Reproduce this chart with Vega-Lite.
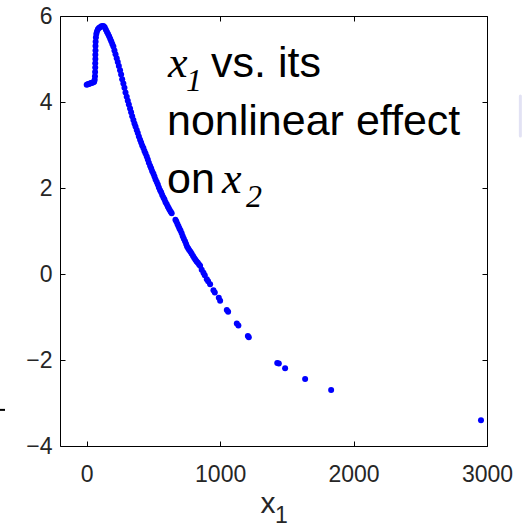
{
  "$schema": "https://vega.github.io/schema/vega-lite/v6.json",
  "width": 427,
  "height": 430,
  "autosize": "none",
  "padding": {"left": 60, "top": 16, "right": 43, "bottom": 81},
  "background": "white",
  "config": {
    "view": {"stroke": "black", "strokeWidth": 1},
    "axis": {
      "grid": false,
      "domain": false,
      "tickColor": "black",
      "tickWidth": 1,
      "tickSize": 5,
      "labelFont": "Liberation Sans",
      "labelFontSize": 23,
      "labelColor": "#262626",
      "labelFlush": false,
      "labelOverlap": false,
      "titleFont": "Liberation Sans",
      "titleFontWeight": "normal",
      "titleColor": "#262626"
    }
  },
  "datasets": {
    "pts": [
      {"x1": 0, "effect": 4.40}, {"x1": 8, "effect": 4.41}, {"x1": 16, "effect": 4.42}, {"x1": 25, "effect": 4.43},
      {"x1": 33, "effect": 4.44}, {"x1": 42, "effect": 4.45}, {"x1": 50, "effect": 4.46}, {"x1": 56, "effect": 4.47},
      {"x1": 60, "effect": 4.52}, {"x1": 62, "effect": 4.60}, {"x1": 63, "effect": 4.70}, {"x1": 64, "effect": 4.80},
      {"x1": 64, "effect": 4.90}, {"x1": 65, "effect": 5.00}, {"x1": 65, "effect": 5.10}, {"x1": 66, "effect": 5.20},
      {"x1": 66, "effect": 5.30}, {"x1": 67, "effect": 5.40}, {"x1": 69, "effect": 5.50}, {"x1": 72, "effect": 5.58},
      {"x1": 77, "effect": 5.64}, {"x1": 84, "effect": 5.69}, {"x1": 92, "effect": 5.72}, {"x1": 100, "effect": 5.74},
      {"x1": 110, "effect": 5.76}, {"x1": 120, "effect": 5.77}, {"x1": 128, "effect": 5.76}, {"x1": 136, "effect": 5.73},
      {"x1": 144, "effect": 5.68}, {"x1": 152, "effect": 5.63}, {"x1": 160, "effect": 5.58}, {"x1": 168, "effect": 5.53},
      {"x1": 176, "effect": 5.47}, {"x1": 184, "effect": 5.41}, {"x1": 192, "effect": 5.35}, {"x1": 200, "effect": 5.29},
      {"x1": 208, "effect": 5.20}, {"x1": 216, "effect": 5.11}, {"x1": 225, "effect": 5.02}, {"x1": 233, "effect": 4.93},
      {"x1": 241, "effect": 4.84}, {"x1": 250, "effect": 4.74}, {"x1": 258, "effect": 4.64}, {"x1": 266, "effect": 4.53},
      {"x1": 275, "effect": 4.43}, {"x1": 283, "effect": 4.33}, {"x1": 291, "effect": 4.22}, {"x1": 300, "effect": 4.12},
      {"x1": 308, "effect": 4.03}, {"x1": 316, "effect": 3.94}, {"x1": 325, "effect": 3.85}, {"x1": 333, "effect": 3.76},
      {"x1": 341, "effect": 3.67}, {"x1": 350, "effect": 3.58}, {"x1": 358, "effect": 3.50}, {"x1": 366, "effect": 3.43},
      {"x1": 375, "effect": 3.35}, {"x1": 383, "effect": 3.28}, {"x1": 391, "effect": 3.20}, {"x1": 400, "effect": 3.12},
      {"x1": 408, "effect": 3.06}, {"x1": 416, "effect": 2.99}, {"x1": 425, "effect": 2.93}, {"x1": 433, "effect": 2.86},
      {"x1": 441, "effect": 2.80}, {"x1": 450, "effect": 2.73}, {"x1": 458, "effect": 2.66}, {"x1": 466, "effect": 2.59},
      {"x1": 475, "effect": 2.52}, {"x1": 483, "effect": 2.46}, {"x1": 491, "effect": 2.39}, {"x1": 500, "effect": 2.33},
      {"x1": 508, "effect": 2.27}, {"x1": 516, "effect": 2.20}, {"x1": 525, "effect": 2.14}, {"x1": 533, "effect": 2.08},
      {"x1": 541, "effect": 2.01}, {"x1": 550, "effect": 1.95}, {"x1": 558, "effect": 1.90}, {"x1": 566, "effect": 1.84},
      {"x1": 575, "effect": 1.78}, {"x1": 583, "effect": 1.73}, {"x1": 591, "effect": 1.67}, {"x1": 600, "effect": 1.62},
      {"x1": 608, "effect": 1.57}, {"x1": 615, "effect": 1.53}, {"x1": 622, "effect": 1.49}, {"x1": 630, "effect": 1.45},
      {"x1": 637, "effect": 1.41},
      {"x1": 665, "effect": 1.26}, {"x1": 672, "effect": 1.22}, {"x1": 680, "effect": 1.16}, {"x1": 688, "effect": 1.11},
      {"x1": 695, "effect": 1.06}, {"x1": 703, "effect": 1.01}, {"x1": 712, "effect": 0.95}, {"x1": 720, "effect": 0.88},
      {"x1": 728, "effect": 0.82}, {"x1": 737, "effect": 0.76}, {"x1": 745, "effect": 0.70}, {"x1": 752, "effect": 0.64},
      {"x1": 760, "effect": 0.60}, {"x1": 768, "effect": 0.56}, {"x1": 778, "effect": 0.52}, {"x1": 787, "effect": 0.47},
      {"x1": 797, "effect": 0.42}, {"x1": 806, "effect": 0.37}, {"x1": 815, "effect": 0.33}, {"x1": 824, "effect": 0.29},
      {"x1": 833, "effect": 0.26}, {"x1": 842, "effect": 0.22}, {"x1": 850, "effect": 0.19}, {"x1": 862, "effect": 0.10},
      {"x1": 875, "effect": 0.03}, {"x1": 885, "effect": -0.03}, {"x1": 900, "effect": -0.12}, {"x1": 910, "effect": -0.17},
      {"x1": 925, "effect": -0.24}, {"x1": 950, "effect": -0.38}, {"x1": 960, "effect": -0.43}, {"x1": 990, "effect": -0.55},
      {"x1": 1000, "effect": -0.62}, {"x1": 1050, "effect": -0.84}, {"x1": 1060, "effect": -0.88}, {"x1": 1125, "effect": -1.15},
      {"x1": 1137, "effect": -1.20}, {"x1": 1208, "effect": -1.44}, {"x1": 1215, "effect": -1.47}, {"x1": 1428, "effect": -2.07},
      {"x1": 1440, "effect": -2.08}, {"x1": 1487, "effect": -2.19}, {"x1": 1637, "effect": -2.44}, {"x1": 1832, "effect": -2.70},
      {"x1": 2955, "effect": -3.40}
    ],
    "notes": [
      {"part": "sans", "label": "vs. its", "x": 932, "y": 4.58},
      {"part": "sans", "label": "nonlinear effect", "x": 602, "y": 3.233},
      {"part": "sans", "label": "on", "x": 602, "y": 1.884},
      {"part": "var", "label": "x", "x": 609, "y": 4.58},
      {"part": "var", "label": "x", "x": 1014, "y": 1.884},
      {"part": "sub", "label": "1", "x": 744, "y": 4.256},
      {"part": "sub", "label": "2", "x": 1194, "y": 1.558},
      {"part": "axsub", "label": "1", "x": 1411, "y": -5.79}
    ],
    "marks": [
      {"kind": "dash", "x": -650, "x2": -612, "y": -3.16, "y2": -3.16},
      {"kind": "smudge", "x": 3250, "x2": 3250, "y": 4.14, "y2": 3.21}
    ]
  },
  "layer": [
    {
      "data": {"name": "pts"},
      "mark": {"type": "circle", "size": 36, "color": "#0000ff", "opacity": 1},
      "encoding": {
        "x": {
          "field": "x1", "type": "quantitative",
          "scale": {"domain": [-200, 3000], "nice": false, "zero": false},
          "axis": {"orient": "bottom", "values": [0, 1000, 2000, 3000], "format": "d", "ticks": false, "labelPadding": 17, "title": "x", "titleFontSize": 30, "titleX": 200, "titleY": 66, "titleBaseline": "alphabetic", "titleAnchor": "start", "titleAlign": "left"}
        },
        "y": {
          "field": "effect", "type": "quantitative",
          "scale": {"domain": [-4, 6], "nice": false, "zero": false},
          "axis": {"orient": "left", "values": [-4, -2, 0, 2, 4, 6], "ticks": false, "labelPadding": 8, "title": null}
        }
      }
    },
    {
      "data": {"name": "pts"},
      "mark": {"type": "circle", "size": 30, "opacity": 0},
      "encoding": {
        "x": {
          "field": "x1", "type": "quantitative",
          "scale": {"domain": [-200, 3000], "nice": false, "zero": false},
          "axis": {"orient": "top", "offset": -430, "values": [0, 1000, 2000, 3000], "labels": false, "title": null}
        },
        "y": {
          "field": "effect", "type": "quantitative",
          "scale": {"domain": [-4, 6], "nice": false, "zero": false},
          "axis": {"orient": "right", "offset": -427, "values": [-4, -2, 0, 2, 4, 6], "labels": false, "title": null}
        }
      }
    },
    {
      "data": {"name": "pts"},
      "mark": {"type": "circle", "size": 30, "opacity": 0},
      "encoding": {
        "x": {
          "field": "x1", "type": "quantitative",
          "scale": {"domain": [-200, 3000], "nice": false, "zero": false},
          "axis": {"orient": "bottom", "offset": -430, "values": [0, 1000, 2000, 3000], "labels": false, "title": null}
        },
        "y": {
          "field": "effect", "type": "quantitative",
          "scale": {"domain": [-4, 6], "nice": false, "zero": false},
          "axis": {"orient": "left", "offset": -427, "values": [-4, -2, 0, 2, 4, 6], "labels": false, "title": null}
        }
      }
    },
    {
      "data": {"name": "notes"},
      "transform": [{"filter": "datum.part === 'sans'"}],
      "mark": {"type": "text", "align": "left", "baseline": "alphabetic", "font": "Liberation Sans", "fontSize": 43, "color": "black", "clip": false},
      "encoding": {
        "x": {"field": "x", "type": "quantitative", "axis": null},
        "y": {"field": "y", "type": "quantitative", "axis": null},
        "text": {"field": "label"}
      }
    },
    {
      "data": {"name": "notes"},
      "transform": [{"filter": "datum.part === 'var'"}],
      "mark": {"type": "text", "align": "left", "baseline": "alphabetic", "font": "Liberation Serif", "fontStyle": "italic", "fontSize": 44, "color": "black", "clip": false},
      "encoding": {
        "x": {"field": "x", "type": "quantitative", "axis": null},
        "y": {"field": "y", "type": "quantitative", "axis": null},
        "text": {"field": "label"}
      }
    },
    {
      "data": {"name": "notes"},
      "transform": [{"filter": "datum.part === 'sub'"}],
      "mark": {"type": "text", "align": "left", "baseline": "alphabetic", "font": "Liberation Serif", "fontStyle": "italic", "fontSize": 32, "color": "black", "clip": false},
      "encoding": {
        "x": {"field": "x", "type": "quantitative", "axis": null},
        "y": {"field": "y", "type": "quantitative", "axis": null},
        "text": {"field": "label"}
      }
    },
    {
      "data": {"name": "notes"},
      "transform": [{"filter": "datum.part === 'axsub'"}],
      "mark": {"type": "text", "align": "left", "baseline": "alphabetic", "font": "Liberation Sans", "fontSize": 23, "color": "#262626", "clip": false},
      "encoding": {
        "x": {"field": "x", "type": "quantitative", "axis": null},
        "y": {"field": "y", "type": "quantitative", "axis": null},
        "text": {"field": "label"}
      }
    },
    {
      "data": {"name": "marks"},
      "transform": [{"filter": "datum.kind === 'dash'"}],
      "mark": {"type": "rule", "color": "black", "strokeWidth": 2, "clip": false},
      "encoding": {
        "x": {"field": "x", "type": "quantitative", "axis": null},
        "x2": {"field": "x2"},
        "y": {"field": "y", "type": "quantitative", "axis": null},
        "y2": {"field": "y2"}
      }
    },
    {
      "data": {"name": "marks"},
      "transform": [{"filter": "datum.kind === 'smudge'"}],
      "mark": {"type": "rule", "color": "#e2e2f4", "strokeWidth": 3, "strokeCap": "round", "clip": false},
      "encoding": {
        "x": {"field": "x", "type": "quantitative", "axis": null},
        "x2": {"field": "x2"},
        "y": {"field": "y", "type": "quantitative", "axis": null},
        "y2": {"field": "y2"}
      }
    }
  ],
  "resolve": {"axis": {"x": "independent", "y": "independent"}}
}
